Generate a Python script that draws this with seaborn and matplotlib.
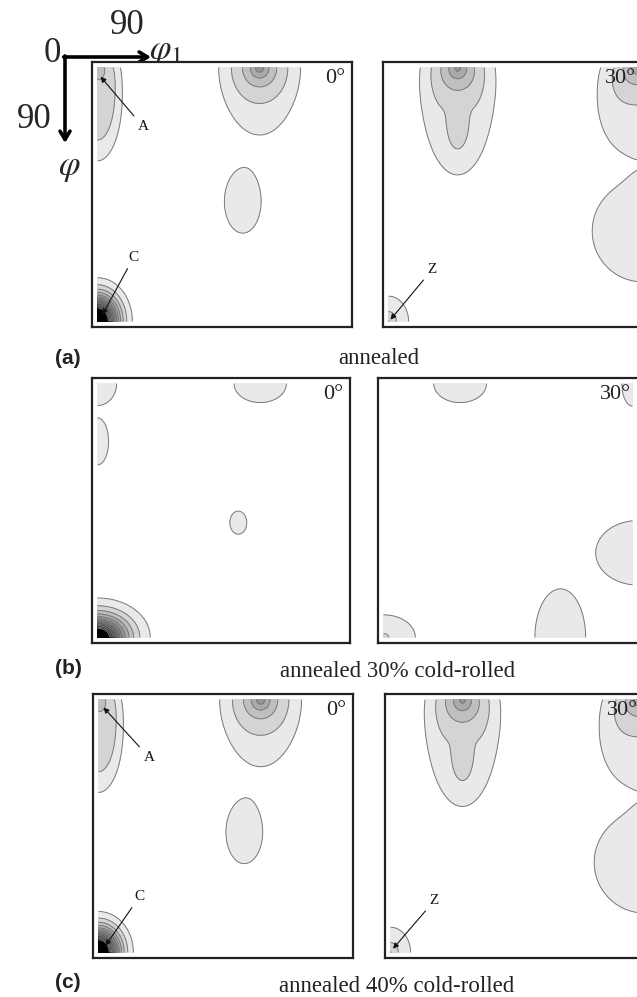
import numpy as np
import matplotlib
matplotlib.use("Agg")
import matplotlib.pyplot as plt
import seaborn as sns

# ODF sections.
# every peak: (phi1, Phi, height, width along phi1, width along Phi, sharpness)
ANNEALED_0 = [
    (58.6, 0.0, 4.6, 6.0, 6.5, 1),
    (58.6, 0.0, 1.4, 15.5, 29.0, 4),
    (0.0, 0.0, 1.5, 6.0, 6.0, 1),
    (0.0, 12.0, 2.3, 9.0, 22.0, 4),
    (52.5, 47.5, 1.4, 8.7, 14.7, 4),
    (0.0, 90.0, 20.0, 6.06, 7.45, 1.5),
]
ANNEALED_30 = [
    (25.0, 0.0, 4.2, 7.0, 8.0, 1),
    (25.0, 14.0, 1.45, 14.0, 30.0, 4),
    (25.0, 22.0, 0.8, 4.0, 9.0, 3),
    (90.0, 0.0, 4.0, 8.0, 7.0, 1),
    (90.0, 16.0, 1.4, 16.0, 20.0, 4),
    (92.0, 58.0, 1.4, 22.0, 21.6, 6),
    (0.0, 90.0, 3.1, 6.4, 7.9, 1),
]
ROLLED30_0 = [
    (0.0, 0.0, 1.6, 7.9, 8.8, 6),
    (59.3, 0.0, 1.6, 13.9, 9.8, 2),
    (0.0, 20.5, 1.5, 4.7, 9.7, 6),
    (51.3, 49.3, 1.3, 6.0, 8.0, 2),
    (0.0, 90.0, 20.0, 7.7, 5.6, 1.2),
]
ROLLED30_30 = [
    (27.7, 0.0, 1.6, 13.9, 9.8, 2),
    (90.0, 0.0, 1.5, 6.0, 12.5, 2),
    (92.0, 60.0, 1.4, 20.0, 15.0, 4),
    (64.0, 90.0, 1.4, 11.8, 22.3, 4),
    (0.0, 90.0, 2.3, 13.8, 9.6, 1),
]
ROLLED40_0 = [
    (58.6, 0.0, 4.6, 6.0, 6.5, 1),
    (58.6, 0.0, 1.4, 15.5, 29.0, 4),
    (0.0, 0.0, 1.5, 6.0, 6.0, 1),
    (0.0, 12.0, 2.3, 9.0, 22.0, 4),
    (52.7, 47.2, 1.4, 8.7, 14.7, 4),
    (0.0, 90.0, 20.0, 6.06, 7.0, 1.5),
]
ROLLED40_30 = [
    (26.0, 0.0, 4.2, 7.0, 8.0, 1),
    (26.0, 14.0, 1.45, 14.0, 30.0, 4),
    (26.0, 22.0, 0.8, 4.0, 9.0, 3),
    (90.0, 0.0, 4.0, 8.0, 7.0, 1),
    (90.0, 16.0, 1.4, 16.0, 20.0, 4),
    (92.0, 58.0, 1.4, 22.0, 21.6, 6),
    (0.0, 90.0, 3.1, 6.4, 7.9, 1),
]

# labelled components: (name, text position, arrow tip)
ANNEALED_0_MARKS = [("A", (16.5, 21.0), (1.1, 3.2)), ("C", (13.0, 67.4), (1.8, 87.6))]
ANNEALED_30_MARKS = [("Z", (15.8, 71.6), (0.7, 89.4))]
ROLLED40_0_MARKS = [("A", (18.3, 20.6), (1.8, 2.8)), ("C", (14.8, 70.2), (2.5, 87.6))]
ROLLED40_30_MARKS = [("Z", (15.8, 71.6), (0.9, 88.7))]

ROW_LABELS = ["(a)", "(b)", "(c)"]
ROW_TITLES = ["annealed", "annealed 30% cold-rolled", "annealed 40% cold-rolled"]
SECTIONS = ["0°", "30°"]
LEVELS = [1, 2, 3, 4, 5, 6, 7, 8, 9, 10, 11, 12]

ROWS = [
    [(ANNEALED_0, ANNEALED_0_MARKS), (ANNEALED_30, ANNEALED_30_MARKS)],
    [(ROLLED30_0, []), (ROLLED30_30, [])],
    [(ROLLED40_0, ROLLED40_0_MARKS), (ROLLED40_30, ROLLED40_30_MARKS)],
]

# layout in pixels (x, y, w, h)
W, H = 637, 997
BOXES = [
    [(92, 62, 260, 265), (383, 62, 260, 265)],
    [(92, 378, 258, 265), (378, 378, 260, 265)],
    [(93, 694, 260, 264), (385, 694, 260, 264)],
]
CAPTION_Y = [364, 677, 992]
CAPTION_X = [379, 398, 397]
LABEL_Y = [358, 668, 982]

sns.set_theme(style="white")
plt.rcParams["font.family"] = ["Liberation Serif", "DejaVu Serif"]
plt.rcParams["mathtext.fontset"] = "stix"

fill_colors = sns.blend_palette(["#e9e9e9", "#000000"], n_colors=len(LEVELS))

grid = np.linspace(0, 90, 271)
GX, GY = np.meshgrid(grid, grid)


def odf_field(peaks):
    f = np.zeros_like(GX)
    for x0, y0, h, sx, sy, p in peaks:
        r = np.sqrt(((GX - x0) / sx) ** 2 + ((GY - y0) / sy) ** 2)
        f += h * np.exp(-r ** p)
    return f


fig = plt.figure(figsize=(W / 100, H / 100), dpi=100)

# overlay in pixel coords for captions and the axis key
over = fig.add_axes([0, 0, 1, 1])
over.set_xlim(0, W)
over.set_ylim(H, 0)
over.axis("off")

for i, row in enumerate(ROWS):
    for j, (peaks, marks) in enumerate(row):
        x, y, w, h = BOXES[i][j]
        ax = fig.add_axes([x / W, 1 - (y + h) / H, w / W, h / H])
        F = odf_field(peaks)
        ax.contourf(GX, GY, F, levels=LEVELS + [1000], colors=fill_colors)
        ax.contour(GX, GY, F, levels=LEVELS, colors="#7a7a7a", linewidths=0.7)
        ax.set_xlim(-2, 92)
        ax.set_ylim(92, -2)
        ax.set_xticks([])
        ax.set_yticks([])
        for s in ax.spines.values():
            s.set_visible(True)
            s.set_color("#222222")
            s.set_linewidth(1.6)
        ax.text(0.975, 0.975, SECTIONS[j], transform=ax.transAxes,
                ha="right", va="top", fontsize=16, color="#222222")
        for name, txt, tip in marks:
            ax.annotate(name, xy=tip, xytext=txt, ha="center", va="center",
                        fontsize=11, color="#111111",
                        arrowprops=dict(arrowstyle="-|>", color="#111111", lw=0.8,
                                        mutation_scale=8, shrinkA=1, shrinkB=0))
    over.text(68, LABEL_Y[i], ROW_LABELS[i], ha="center", va="center",
              fontsize=15, fontweight="bold", family=["Liberation Sans", "DejaVu Sans"],
              color="#222222")
    over.text(CAPTION_X[i], CAPTION_Y[i], ROW_TITLES[i], ha="center", va="baseline",
              fontsize=16.5, color="#222222")

# axis key in the upper left corner
arrow_kw = dict(arrowstyle="->,head_length=0.5,head_width=0.3", lw=2.6, color="black",
                shrinkA=0, shrinkB=0)
over.annotate("", xy=(151, 57), xytext=(63.7, 57), arrowprops=arrow_kw)
over.annotate("", xy=(65, 143), xytext=(65, 56), arrowprops=arrow_kw)
over.text(52, 54, "0", ha="center", va="center", fontsize=25)
over.text(127, 25, "90", ha="center", va="center", fontsize=25)
over.text(34, 120, "90", ha="center", va="center", fontsize=25)
over.text(149, 52, r"$\varphi_1$", ha="left", va="center", fontsize=25)
over.text(69, 168, r"$\varphi$", ha="center", va="center", fontsize=25)

fig.savefig("out.png", dpi=100)
